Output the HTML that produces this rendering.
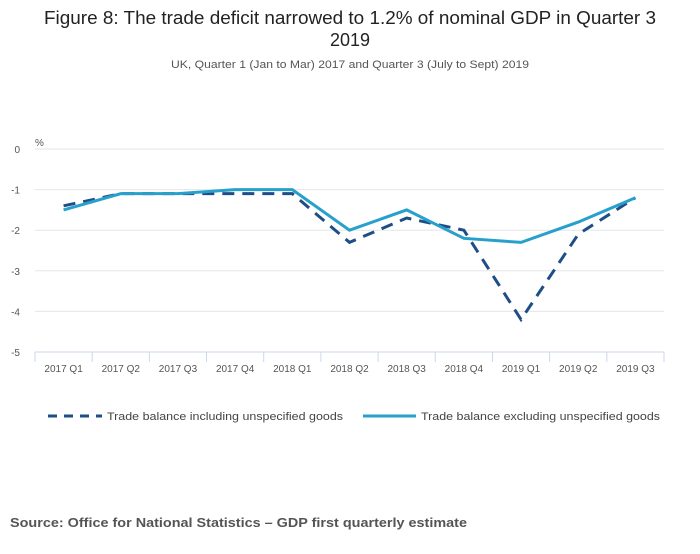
<!DOCTYPE html>
<html><head><meta charset="utf-8"><style>
body{margin:0;background:#fff;width:700px;height:549px;overflow:hidden;font-family:"Liberation Sans",sans-serif}
</style></head><body>
<svg width="700" height="549">
<text x="350" y="24" text-anchor="middle" font-size="18" fill="#222" textLength="612" lengthAdjust="spacingAndGlyphs">Figure 8: The trade deficit narrowed to 1.2% of nominal GDP in Quarter 3</text>
<text x="350" y="46" text-anchor="middle" font-size="18" fill="#222">2019</text>
<text x="350" y="68" text-anchor="middle" font-size="11" fill="#555" textLength="358" lengthAdjust="spacingAndGlyphs">UK, Quarter 1 (Jan to Mar) 2017 and Quarter 3 (July to Sept) 2019</text>
<text x="35" y="146" font-size="10" fill="#555">%</text>
<g id="grid"></g><g id="xaxis"></g><g id="lines"></g>
<g>
<line x1="48" y1="416" x2="102" y2="416" stroke="#1f4e87" stroke-width="3" stroke-dasharray="9,7"/>
<text x="107" y="420" font-size="11" fill="#444" textLength="236" lengthAdjust="spacingAndGlyphs">Trade balance including unspecified goods</text>
<line x1="363" y1="416" x2="416" y2="416" stroke="#27a0cc" stroke-width="3"/>
<text x="421" y="420" font-size="11" fill="#444" textLength="239" lengthAdjust="spacingAndGlyphs">Trade balance excluding unspecified goods</text>
</g>
<text x="10" y="527" font-size="13" font-weight="bold" fill="#555" textLength="457" lengthAdjust="spacingAndGlyphs">Source: Office for National Statistics – GDP first quarterly estimate</text>
</svg>
<script>
const categories=["2017 Q1","2017 Q2","2017 Q3","2017 Q4","2018 Q1","2018 Q2","2018 Q3","2018 Q4","2019 Q1","2019 Q2","2019 Q3"];
const including=[-1.4,-1.1,-1.1,-1.1,-1.1,-2.3,-1.7,-2.0,-4.2,-2.1,-1.2];
const excluding=[-1.5,-1.1,-1.1,-1.0,-1.0,-2.0,-1.5,-2.2,-2.3,-1.8,-1.2];
const yTicks=[0,-1,-2,-3,-4,-5];
const NS="http://www.w3.org/2000/svg";
const x0=35,x1=664,y0=149,yScale=40.6;
const bw=(x1-x0)/categories.length;
const X=i=>x0+bw*(i+0.5), Y=v=>y0-v*yScale;
function mk(t,a,p){const e=document.createElementNS(NS,t);for(const k in a)e.setAttribute(k,a[k]);document.getElementById(p).appendChild(e);return e;}
yTicks.forEach(v=>{
 const l=mk('line',{x1:x0,x2:x1,y1:Y(v),y2:Y(v),stroke:v===-5?'#ccd6eb':'#e6e6e6','stroke-width':1},'grid');
 
 
 const t=mk('text',{x:20,y:Y(v)+4,'text-anchor':'end','font-size':10,fill:'#555'},'grid');t.textContent=v;
 
 
});
for(let i=0;i<=categories.length;i++){const l=mk('line',{x1:x0+bw*i,x2:x0+bw*i,y1:Y(-5),y2:Y(-5)+10,stroke:'#ccd6eb'},'xaxis');
 
 }
categories.forEach((c,i)=>{const t=mk('text',{x:X(i),y:Y(-5)+20,'text-anchor':'middle','font-size':10,fill:'#555'},'xaxis');t.textContent=c;
 
 });
const pts=a=>a.map((v,i)=>X(i)+','+Y(v)).join(' ');
const p1=mk('polyline',{points:pts(including),fill:'none',stroke:'#1f4e87','stroke-width':3,'stroke-dasharray':'12,8'},'lines');


const p2=mk('polyline',{points:pts(excluding),fill:'none',stroke:'#27a0cc','stroke-width':3},'lines');


</script>
</body></html>
